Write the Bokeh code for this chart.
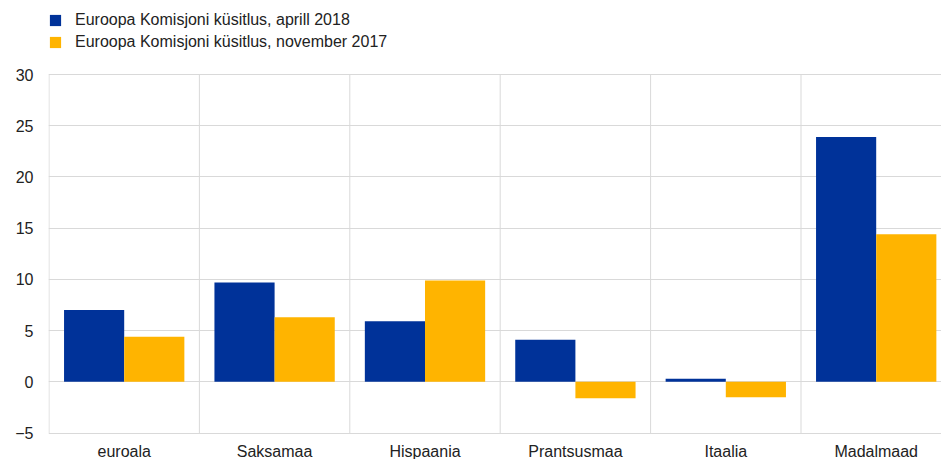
from bokeh.plotting import figure
from bokeh.models import Range1d, FixedTicker, Legend, LegendItem, ColumnDataSource
from bokeh.core.properties import value
from bokeh.embed import file_html
from bokeh.resources import INLINE

# Survey results by country (percentage balance)
categories = ["euroala", "Saksamaa", "Hispaania", "Prantsusmaa", "Itaalia", "Madalmaad"]
apr_2018 = [7.0, 9.7, 5.9, 4.1, 0.3, 23.9]
nov_2017 = [4.4, 6.3, 9.9, -1.6, -1.5, 14.4]
y_ticks = [-5, 0, 5, 10, 15, 20, 25, 30]

series_names = ["Euroopa Komisjoni küsitlus, aprill 2018", "Euroopa Komisjoni küsitlus, november 2017"]
BLUE = "#003299"
ORANGE = "#FFB400"
GRID = "#d9d9d9"
FONT = "Liberation Sans"
TEXT = "#222222"

idx = list(range(len(categories)))
src = ColumnDataSource(dict(
    x_a=[i + 0.3 for i in idx],
    x_b=[i + 0.7 for i in idx],
    apr=apr_2018,
    nov=nov_2017,
))

# The frame fills the whole canvas height: the legend sits above the value
# band and the country names below it; separators span only -5..30.
H = 459
PX_PER_UNIT = (432.5 - 74) / 35.0
y_top = 30 + 74 / PX_PER_UNIT
y_bot = -5 - (H - 432.5) / PX_PER_UNIT
y_cat_label = -5 - (459 - 432.5) / PX_PER_UNIT   # bottom of the name boxes
PX_PER_CAT = 150.4
x_lo = -0.5 / PX_PER_CAT
x_hi = x_lo + 893 / PX_PER_CAT

p = figure(width=941, height=H, output_backend="svg", toolbar_location=None,
           x_range=Range1d(x_lo, x_hi), y_range=Range1d(y_bot, y_top),
           min_border_left=48, min_border_right=0, min_border_top=0, min_border_bottom=0)
p.outline_line_color = None
p.background_fill_color = "white"
p.border_fill_color = "white"

# Vertical separators between countries
sep_x = list(range(len(categories) + 1))
p.segment(x0=sep_x, x1=sep_x, y0=[y_ticks[0]] * len(sep_x), y1=[y_ticks[-1]] * len(sep_x),
          line_color=GRID, line_width=1)

r_a = p.vbar(x="x_a", top="apr", bottom=0, width=0.4, source=src, fill_color=BLUE, line_color=None)
r_b = p.vbar(x="x_b", top="nov", bottom=0, width=0.4, source=src, fill_color=ORANGE, line_color=None)

# Country names centred under each group
p.text(x=[i + 0.5 for i in idx], y=[y_cat_label] * len(idx), text=categories,
       text_align="center", text_baseline="bottom",
       text_font=value(FONT), text_font_size="16px", text_color=TEXT)

# Axes
p.xaxis.visible = False
p.yaxis.ticker = FixedTicker(ticks=y_ticks)
p.yaxis.axis_line_color = None
p.yaxis.major_tick_line_color = None
p.yaxis.minor_tick_line_color = None
p.yaxis.major_tick_out = 0
p.yaxis.major_label_standoff = 15
p.yaxis.major_label_text_font = FONT
p.yaxis.major_label_text_font_size = "16px"
p.yaxis.major_label_text_color = TEXT

# Horizontal grid at every tick
p.ygrid.ticker = FixedTicker(ticks=y_ticks)
p.ygrid.grid_line_color = GRID
p.ygrid.grid_line_width = 1
p.xgrid.grid_line_color = None

legend = Legend(items=[LegendItem(label=series_names[0], renderers=[r_a]),
                       LegendItem(label=series_names[1], renderers=[r_b])],
                location=(0, H - 53), orientation="vertical",
                glyph_width=14, glyph_height=14, label_height=22, spacing=0,
                label_standoff=13, padding=0, margin=0,
                border_line_color=None, background_fill_alpha=0,
                label_text_font=FONT, label_text_font_size="16px",
                label_text_color=TEXT)
p.add_layout(legend, "center")

open("out.html", "w").write(file_html(p, INLINE))
